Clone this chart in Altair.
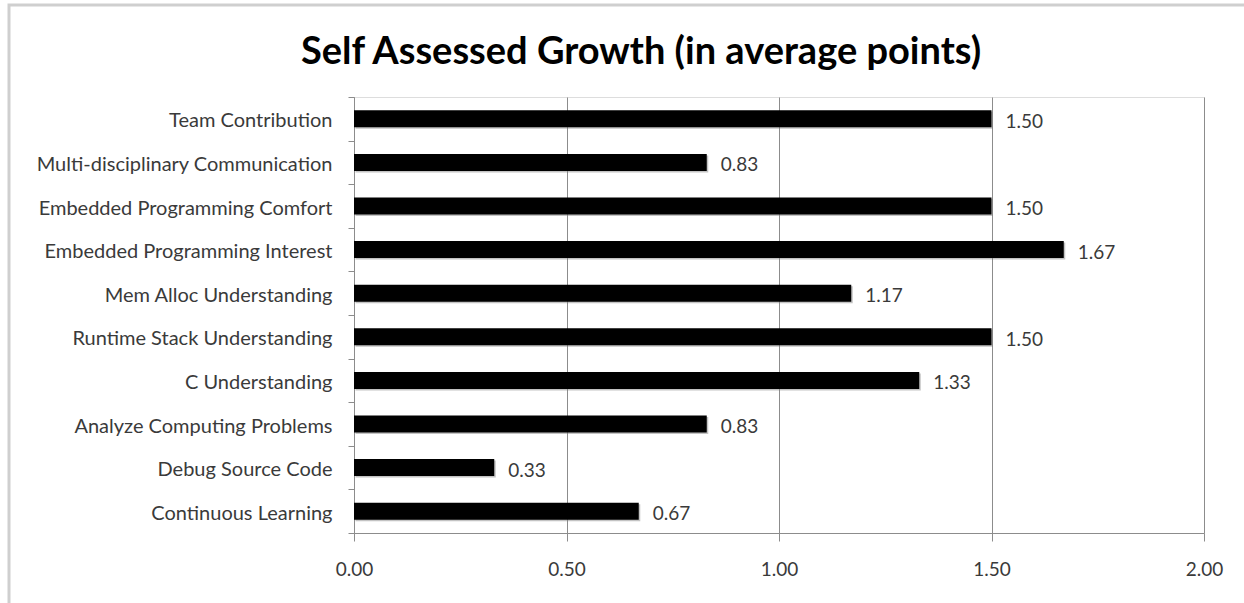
import altair as alt
import pandas as pd

title_text = "Self Assessed Growth (in average points)"
categories = [
    "Team Contribution",
    "Multi-disciplinary Communication",
    "Embedded Programming Comfort",
    "Embedded Programming Interest",
    "Mem Alloc Understanding",
    "Runtime Stack Understanding",
    "C Understanding",
    "Analyze Computing Problems",
    "Debug Source Code",
    "Continuous Learning",
]
values = [1.50, 0.83, 1.50, 1.67, 1.17, 1.50, 1.33, 0.83, 0.33, 0.67]
x_ticks = [0.0, 0.5, 1.0, 1.5, 2.0]

df = pd.DataFrame({"category": categories, "value": values})

FONT = "Lato"
GRID = "#8c8c8c"
LABEL = "#3a3a3a"

y_enc = alt.Y(
    "category:N",
    sort=categories,
    title=None,
    scale=alt.Scale(paddingInner=0, paddingOuter=0),
    axis=alt.Axis(
        labelFont=FONT, labelFontSize=20, labelColor=LABEL, labelPadding=16,
        labelOffset=2,
        tickBand="extent", tickSize=6, tickColor=GRID, domainColor=GRID,
        labelLimit=400,
    ),
)
x_enc = alt.X(
    "value:Q",
    title=None,
    scale=alt.Scale(domain=[0, 2], nice=False),
    axis=alt.Axis(
        values=x_ticks, format=".2f", labelFont=FONT, labelFontSize=19,
        labelColor=LABEL, labelPadding=19, tickSize=8, tickColor=GRID,
        labelFlush=False,
        domainColor=GRID, grid=True, gridColor=GRID, gridWidth=1,
    ),
)

shadow = alt.Chart(df).mark_bar(
    size=17, color="#7a7a7a", opacity=0.45, xOffset=1.5, yOffset=1.5
).encode(x=x_enc, y=y_enc)
bars = alt.Chart(df).mark_bar(size=17, color="#000000").encode(x=x_enc, y=y_enc)
labels = alt.Chart(df).mark_text(
    align="left", baseline="middle", dx=14, dy=3, font=FONT, fontSize=19, color=LABEL
).encode(x="value:Q", y=alt.Y("category:N", sort=categories), text=alt.Text("value:Q", format=".2f"))

frame = alt.Chart(alt.Data(values=[{}])).mark_rect(
    filled=False, stroke="#cfcfcf", strokeWidth=3
).encode(x=alt.value(-345), x2=alt.value(900), y=alt.value(-92), y2=alt.value(530))

title = alt.Chart(alt.Data(values=[{"t": title_text}])).mark_text(
    font=FONT, fontSize=38, fontWeight="bold", color="#000000",
    align="center", baseline="alphabetic",
).encode(x=alt.value(287), y=alt.value(-33), text="t:N")

chart = alt.layer(frame, title, shadow, bars, labels).properties(
    width=850,
    height=436,
    autosize=alt.AutoSizeParams(type="none"),
    padding={"left": 354, "top": 97, "right": 40, "bottom": 70},
).configure_view(stroke=None).configure(background="#ffffff")

chart.save("out.html", embed_options={"renderer": "svg", "actions": False})
